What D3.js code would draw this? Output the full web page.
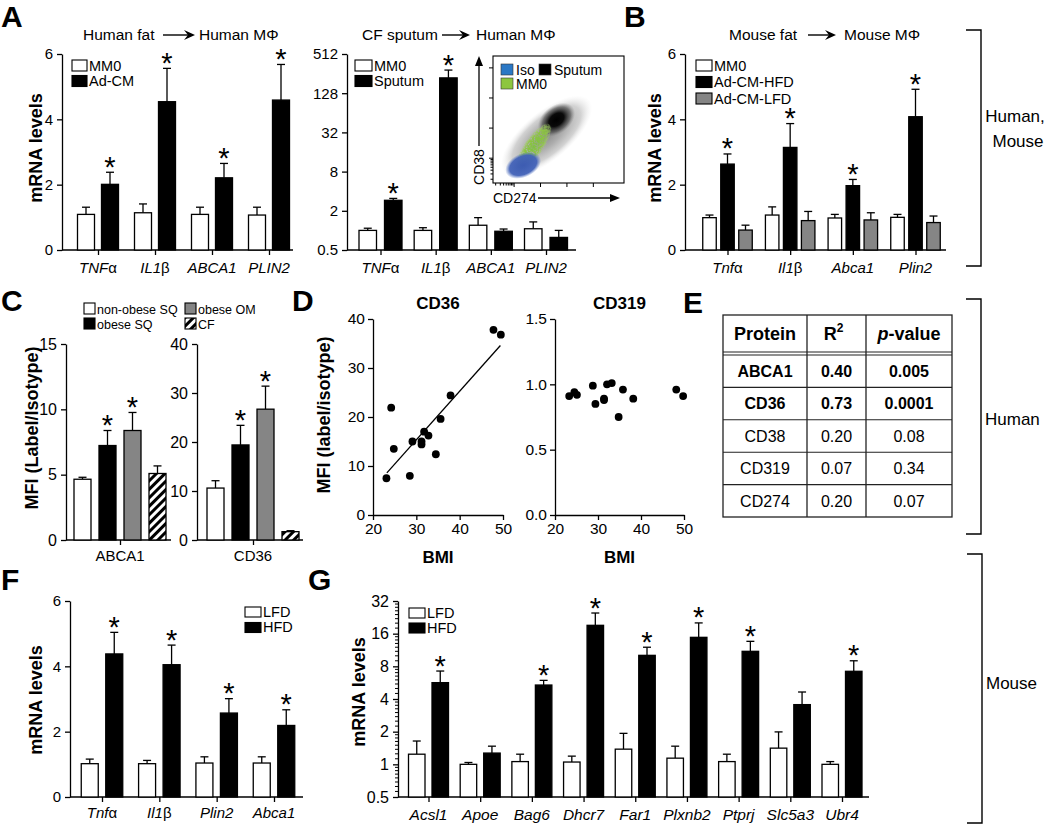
<!DOCTYPE html>
<html><head><meta charset="utf-8">
<script src="https://cdn.jsdelivr.net/npm/d3@7"></script>
<style>
body{margin:0;background:#fff}
text{font-family:'Liberation Sans',Arial,sans-serif;fill:#000}
</style>
</head><body><script>
// ---------------- DATA ----------------
// Panel A (left): human fat -> human macrophage
const aLeftCats = ["TNFα","IL1β","ABCA1","PLIN2"];
const aLeftMM0 = [1.09,1.14,1.09,1.07];
const aLeftMM0Sem = [0.22,0.27,0.22,0.24];
const aLeftAdCM = [2.01,4.54,2.21,4.59];
const aLeftAdCMSem = [0.37,1.02,0.44,1.09];
const aLeftStars = [true,true,true,true];
const aLeftTicks = [0,2,4,6];
// Panel A (middle): CF sputum (log2 axis)
const aMidCats = ["TNFα","IL1β","ABCA1","PLIN2"];
const aMidMM0 = [1.0,1.0,1.2,1.06];
const aMidMM0Sem = [0.08,0.1,0.37,0.29];
const aMidSputum = [2.9,220,0.97,0.78];
const aMidSputumSem = [0.2,70,0.08,0.22];
const aMidStars = [true,true,false,false];
const aMidTicks = [0.5,2,8,32,128,512];
// inset flow plot
const insetXTicks = [10,100,1000,10000];
const insetYTicks = [10,100,1000,10000];
const insetMinor = [2,3,4,5,6,7,8,9];
const insetClouds = [
  {name:"Sputum-spread", cx:170, cy:55, fill:"grey"},
  {name:"Sputum-core", cx:400, cy:190, fill:"black"},
  {name:"MM0", cx:55, cy:24, fill:"green"},
  {name:"Iso", cx:22, cy:5.8, fill:"blue"}
];
// Panel B: mouse fat -> mouse macrophage
const bCats = ["Tnfα","Il1β","Abca1","Plin2"];
const bMM0 = [0.99,1.07,0.98,1.0];
const bMM0Sem = [0.08,0.25,0.11,0.09];
const bHFD = [2.63,3.14,1.97,4.08];
const bHFDSem = [0.31,0.73,0.19,0.84];
const bLFD = [0.61,0.9,0.92,0.84];
const bLFDSem = [0.15,0.28,0.22,0.2];
const bHFDStars = [true,true,true,true];
const bTicks = [0,2,4,6];
// Panel C
const cGroups = ["non-obese SQ","obese SQ","obese OM","CF"];
const cAbca1 = [4.65,7.23,8.38,5.09];
const cAbca1Sem = [0.15,1.15,1.38,0.58];
const cCd36 = [10.6,19.4,26.7,1.7];
const cCd36Sem = [1.5,4.0,4.7,0.2];
const cStars = [false,true,true,false];
const cAbca1Ticks = [0,5,10,15];
const cCd36Ticks = [0,10,20,30,40];
// Panel D
const dBmiCD36 = [23.1,24.2,24.8,28.5,29.1,31.2,31.2,31.8,32.8,34.5,35.6,37.9,47.8,49.5];
const dCD36 = [7.5,21.9,13.5,8.0,15.0,15.0,14.4,17.0,16.2,12.4,19.6,24.4,37.8,36.8];
const dFitCD36 = [[23.2,8.6],[49.4,34.6]];
const dBmiCD319 = [23.3,24.5,25.1,28.8,29.4,31.4,31.4,32.1,33.2,34.8,35.8,38.2,48.2,49.8];
const dCD319 = [0.91,0.94,0.92,0.99,0.85,0.89,0.88,1.0,1.01,0.75,0.96,0.89,0.96,0.91];
const dXTicks = [20,30,40,50];
const dCD36Ticks = [0,10,20,30,40];
const dCD319Ticks = [0,0.5,1.0,1.5];
// Panel E
const eProteins = ["ABCA1","CD36","CD38","CD319","CD274"];
const eR2 = ["0.40","0.73","0.20","0.07","0.20"];
const eP = ["0.005","0.0001","0.08","0.34","0.07"];
const eBold = [true,true,false,false,false];
// Panel F
const fCats = ["Tnfα","Il1β","Plin2","Abca1"];
const fLFD = [1.02,1.02,1.04,1.04];
const fLFDSem = [0.14,0.10,0.19,0.19];
const fHFD = [4.38,4.05,2.57,2.19];
const fHFDSem = [0.66,0.60,0.44,0.48];
const fStars = [true,true,true,true];
const fTicks = [0,2,4,6];
// Panel G (log2 axis)
const gCats = ["Acsl1","Apoe","Bag6","Dhcr7","Far1","Plxnb2","Ptprj","Slc5a3","Ubr4"];
const gLFD = [1.24,1.0,1.06,1.05,1.38,1.14,1.06,1.41,1.0];
const gLFDSem = [0.40,0.04,0.18,0.14,0.55,0.33,0.18,0.58,0.06];
const gHFD = [5.66,1.27,5.38,19.1,10.1,14.8,11.0,3.55,7.2];
const gHFDSem = [1.58,0.20,0.56,5.7,1.9,5.3,2.6,1.09,1.8];
const gStars = [true,false,true,true,true,true,true,false,true];
const gTicks = [0.5,1,2,4,8,16,32];

// ---------------- SETUP ----------------
const svg = d3.select("body").append("svg").attr("width",1050).attr("height",825).style("display","block");
const defs = svg.append("defs");
const hp = defs.append("pattern").attr("id","hatch").attr("patternUnits","userSpaceOnUse")
  .attr("width",6).attr("height",6).attr("patternTransform","rotate(45)");
hp.append("rect").attr("width",6).attr("height",6).attr("fill","#fff");
hp.append("rect").attr("width",3).attr("height",6).attr("fill","#000");
// speckle texture for the flow-cytometry inset
const sf = defs.append("filter").attr("id","speckle").attr("x","-20%").attr("y","-20%").attr("width","140%").attr("height","140%");
sf.append("feTurbulence").attr("type","fractalNoise").attr("baseFrequency",0.9).attr("numOctaves",1).attr("seed",4).attr("result","n");
sf.append("feColorMatrix").attr("in","n").attr("type","matrix")
  .attr("values","0 0 0 0 0  0 0 0 0 0  0 0 0 0 0  6 0 0 0 -2.0").attr("result","m");
sf.append("feComposite").attr("in","SourceGraphic").attr("in2","m").attr("operator","in");

const GREY = "#858585";
const SW = 1.3;

function styleAxis(g, fs){
  g.select(".domain").attr("stroke","#000").attr("stroke-width",SW);
  g.selectAll(".tick line").attr("stroke","#000").attr("stroke-width",SW);
  g.selectAll(".tick text").attr("fill","#000").style("font-size",fs+"px")
    .style("font-family","'Liberation Sans',Arial,sans-serif");
}
function catLabel(sel, name, italic){
  const m = name.match(/^(.*?)([αβ])$/);
  if(m){
    sel.append("tspan").style("font-style",italic?"italic":"normal").text(m[1]);
    sel.append("tspan").style("font-style","normal").text(m[2]);
  } else sel.append("tspan").style("font-style",italic?"italic":"normal").text(name);
}
function yLabel(text, x, y, fs){
  svg.append("text").attr("transform",`translate(${x},${y}) rotate(-90)`)
    .attr("text-anchor","middle").style("font-size",(fs||18)+"px").style("font-weight","bold").text(text);
}
function panelLetter(t,x,y){
  svg.append("text").attr("x",x).attr("y",y).style("font-size","30px").style("font-weight","bold").text(t);
}
function legend(items, x, y0, dy, w, h, fs){
  items.forEach((it,i)=>{
    const y = y0 + i*dy;
    svg.append("rect").attr("x",x).attr("y",y).attr("width",w).attr("height",h)
      .attr("fill",it.fill).attr("stroke","#000").attr("stroke-width",1.1);
    svg.append("text").attr("x",x+w+2).attr("y",y+h-0.5).style("font-size",fs+"px").text(it.name);
  });
}
function arrowHead(g, x, y, dir){
  if(dir==="right") g.append("path").attr("d",`M${x},${y} L${x-11},${y-5} L${x-7},${y} L${x-11},${y+5} Z`).attr("fill","#000");
  else g.append("path").attr("d",`M${x},${y} L${x-4},${y+10} L${x+4},${y+10} Z`).attr("fill","#000");
}
function arrowTitle(t1, t2, x1, ax1, ax2, x2, y){
  svg.append("text").attr("x",x1).attr("y",y).style("font-size","15.5px").text(t1);
  svg.append("line").attr("x1",ax1).attr("x2",ax2-6).attr("y1",y-5).attr("y2",y-5).attr("stroke","#000").attr("stroke-width",1.4);
  arrowHead(svg, ax2, y-5, "right");
  svg.append("text").attr("x",x2).attr("y",y).style("font-size","15.5px").text(t2);
}
function bracket(x, y1, y2){
  svg.append("path").attr("d",`M${x-15},${y1} H${x} V${y2} H${x-15}`).attr("fill","none").attr("stroke","#000").attr("stroke-width",1.4);
}

function barChart(o){
  const g = svg.append("g");
  const y = o.y;
  const yBase = y.range()[0];
  const xc = d3.scalePoint().domain(o.cats).range(o.centers);
  const n = o.series.length;
  if(o.minor){
    g.selectAll(null).data(o.minor).enter().append("line")
      .attr("x1",o.ax[0]-3).attr("x2",o.ax[0]).attr("y1",d=>y(d)).attr("y2",d=>y(d))
      .attr("stroke","#000").attr("stroke-width",1);
  }
  const ya = d3.axisLeft(y).tickValues(o.yTicks).tickSize(5).tickSizeOuter(0).tickPadding(4)
    .tickFormat(o.fmt || (d=>d));
  const yg = g.append("g").attr("transform",`translate(${o.ax[0]},0)`).call(ya);
  styleAxis(yg, o.tickFs||15);
  g.append("line").attr("x1",o.ax[0]).attr("x2",o.ax[1]).attr("y1",yBase).attr("y2",yBase)
    .attr("stroke","#000").attr("stroke-width",SW);
  const xa = d3.axisBottom(xc).tickSize(5).tickSizeOuter(0).tickFormat("");
  const xg = g.append("g").attr("transform",`translate(0,${yBase})`).call(xa);
  xg.select(".domain").remove();
  styleAxis(xg, 15);
  o.cats.forEach(c=>{
    const t = g.append("text").attr("x",xc(c)).attr("y",o.catY).attr("text-anchor","middle")
      .style("font-size",(o.catFs||15)+"px");
    catLabel(t, c, o.italic);
  });
  o.series.forEach((s,j)=>{
    const off = (j-(n-1)/2)*o.pitch;
    o.cats.forEach((c,i)=>{
      const cx = xc(c)+off;
      const v = s.vals[i], e = s.sems[i];
      const top = y(v + e);
      g.append("line").attr("x1",cx).attr("x2",cx).attr("y1",y(v)).attr("y2",top).attr("stroke","#000").attr("stroke-width",SW);
      g.append("line").attr("x1",cx-4).attr("x2",cx+4).attr("y1",top).attr("y2",top).attr("stroke","#000").attr("stroke-width",SW);
      g.append("rect").attr("x",cx-o.w/2).attr("y",y(v)).attr("width",o.w).attr("height",yBase-y(v))
        .attr("fill",s.fill).attr("stroke","#000").attr("stroke-width",SW);
      if(s.stars && s.stars[i]){
        g.append("text").attr("x",cx).attr("y",top+4.5).attr("text-anchor","middle")
          .style("font-size","29px").text("*");
      }
    });
  });
  return g;
}

// ---------------- PANEL A left ----------------
panelLetter("A",1,27);
arrowTitle("Human fat","Human MΦ",83,163,195,199,40);
barChart({cats:aLeftCats, y:d3.scaleLinear().domain([0,6]).range([250,54]), ax:[62,293], centers:[98,269],
  w:17, pitch:24, yTicks:aLeftTicks, catY:273, italic:true,
  series:[{vals:aLeftMM0,sems:aLeftMM0Sem,fill:"#fff"},{vals:aLeftAdCM,sems:aLeftAdCMSem,fill:"#000",stars:aLeftStars}]});
legend([{name:"MM0",fill:"#fff"},{name:"Ad-CM",fill:"#000"}],72,60,15.5,15,11,14.5);
yLabel("mRNA levels",42,148);

// ---------------- PANEL A middle ----------------
arrowTitle("CF sputum","Human MΦ",362,442,470,476,40);
const yAmid = d3.scaleLog().base(2).domain([0.5,512]).range([250,54]);
barChart({cats:aMidCats, y:yAmid, ax:[347,576], centers:[380.5,546], w:17.5, pitch:25.5,
  yTicks:aMidTicks, catY:273, italic:true,
  series:[{vals:aMidMM0,sems:aMidMM0Sem,fill:"#fff"},{vals:aMidSputum,sems:aMidSputumSem,fill:"#000",stars:aMidStars}]});
legend([{name:"MM0",fill:"#fff"},{name:"Sputum",fill:"#000"}],355,60,15.5,17,11,14.5);

// inset flow plot
(function(){
  const L=493,R=624,T=56,B=183;
  const ix = d3.scaleLog().domain([1.585,145000]).range([L,R]);
  const iy = d3.scaleLog().domain([1.5,24800]).range([B,T]);
  const g = svg.append("g");
  const clip = defs.append("clipPath").attr("id","insetClip");
  clip.append("rect").attr("x",L).attr("y",T).attr("width",R-L).attr("height",B-T);
  const grads = {
    grey:[["0%","#8c8c8c",1],["40%","#a9a9a9",0.95],["75%","#cdcdcd",0.9],["100%","#ececec",0]],
    black:[["0%","#000",1],["40%","#0a0a0a",1],["75%","#3c3c3c",0.6],["100%","#777",0]],
    green:[["0%","#7fc13f",1],["70%","#8dc63f",1],["100%","#a6d36a",0.5]],
    blue:[["0%","#3d5cb2",1],["75%","#4262b8",0.95],["100%","#5b7bc8",0]]
  };
  Object.entries(grads).forEach(([k,stops])=>{
    const rg = defs.append("radialGradient").attr("id","cl-"+k);
    stops.forEach(s=>rg.append("stop").attr("offset",s[0]).attr("stop-color",s[1]).attr("stop-opacity",s[2]));
  });
  const shape = {grey:[56,24,-40], black:[21,14,-38], green:[27,9,-55], blue:[19,12,-25]};
  const cg = g.append("g").attr("clip-path","url(#insetClip)");
  insetClouds.forEach(c=>{
    const s = shape[c.fill];
    const el = cg.append("ellipse").attr("transform",`translate(${ix(c.cx)},${iy(c.cy)}) rotate(${s[2]})`)
      .attr("rx",s[0]).attr("ry",s[1]).attr("fill",`url(#cl-${c.fill})`);
    if(c.fill==="green") el.attr("filter","url(#speckle)");
  });
  g.append("rect").attr("x",L).attr("y",T).attr("width",R-L).attr("height",B-T).attr("fill","none").attr("stroke","#000").attr("stroke-width",1.1);
  g.selectAll(null).data(insetYTicks).enter().append("line").attr("x1",L-4).attr("x2",L).attr("y1",d=>iy(d)).attr("y2",d=>iy(d)).attr("stroke","#000");
  g.selectAll(null).data(insetMinor).enter().append("line").attr("x1",L-2.5).attr("x2",L).attr("y1",d=>iy(d)).attr("y2",d=>iy(d)).attr("stroke","#000");
  g.selectAll(null).data(insetXTicks).enter().append("line").attr("y1",B).attr("y2",B+4).attr("x1",d=>ix(d)).attr("x2",d=>ix(d)).attr("stroke","#000");
  g.selectAll(null).data(insetMinor).enter().append("line").attr("y1",B).attr("y2",B+2.5).attr("x1",d=>ix(d)).attr("x2",d=>ix(d)).attr("stroke","#000");
  const lg = [{n:"Iso",c:"#2b78c5",x:501,y:64},{n:"Sputum",c:"#000",x:539,y:64},{n:"MM0",c:"#8dc63f",x:501,y:78}];
  lg.forEach(d=>{
    g.append("rect").attr("x",d.x).attr("y",d.y).attr("width",12).attr("height",11).attr("fill",d.c).attr("stroke","#333").attr("stroke-width",0.6);
    g.append("text").attr("x",d.x+15).attr("y",d.y+10.5).style("font-size","14px").text(d.n);
  });
  g.append("line").attr("x1",479).attr("x2",479).attr("y1",146).attr("y2",64).attr("stroke","#000").attr("stroke-width",1.3);
  arrowHead(g,479,56,"up");
  g.append("text").attr("transform","translate(484,167) rotate(-90)").attr("text-anchor","middle").style("font-size","14px").text("CD38");
  g.append("text").attr("x",493).attr("y",203).style("font-size","14px").text("CD274");
  g.append("line").attr("x1",538).attr("x2",612).attr("y1",198).attr("y2",198).attr("stroke","#000").attr("stroke-width",1.3);
  g.append("path").attr("d","M620,198 L610,194 L610,202 Z").attr("fill","#000");
})();

// ---------------- PANEL B ----------------
panelLetter("B",624,27);
arrowTitle("Mouse fat","Mouse MΦ",729,808,836,844,40);
barChart({cats:bCats, y:d3.scaleLinear().domain([0,6]).range([250,54]), ax:[685,946], centers:[727.5,915.5],
  w:13.5, pitch:18, yTicks:bTicks, catY:273, italic:true,
  series:[{vals:bMM0,sems:bMM0Sem,fill:"#fff"},{vals:bHFD,sems:bHFDSem,fill:"#000",stars:bHFDStars},{vals:bLFD,sems:bLFDSem,fill:GREY}]});
legend([{name:"MM0",fill:"#fff"},{name:"Ad-CM-HFD",fill:"#000"},{name:"Ad-CM-LFD",fill:GREY}],696,60,16.5,16,11,14.5);
yLabel("mRNA levels",661,148);
bracket(981,30,266);
svg.append("text").attr("x",1015).attr("y",122).attr("text-anchor","middle").style("font-size","17px").text("Human,");
svg.append("text").attr("x",1018).attr("y",147).attr("text-anchor","middle").style("font-size","17px").text("Mouse");

// ---------------- PANEL C ----------------
panelLetter("C",1,311);
const cFills = ["#fff","#000",GREY,"url(#hatch)"];
barChart({cats:["ABCA1"], y:d3.scaleLinear().domain([0,15]).range([540,344]), ax:[66,171], centers:[120,120],
  w:17, pitch:25, yTicks:cAbca1Ticks, catY:561, italic:false, tickFs:16,
  series:cGroups.map((gname,j)=>({vals:[cAbca1[j]],sems:[cAbca1Sem[j]],fill:cFills[j],stars:[cStars[j]]}))});
barChart({cats:["CD36"], y:d3.scaleLinear().domain([0,40]).range([540,344]), ax:[197,303], centers:[253,253],
  w:17, pitch:25, yTicks:cCd36Ticks, catY:561, italic:false, tickFs:16,
  series:cGroups.map((gname,j)=>({vals:[cCd36[j]],sems:[cCd36Sem[j]],fill:cFills[j],stars:[cStars[j]]}))});
legend([{name:cGroups[0],fill:cFills[0]},{name:cGroups[1],fill:cFills[1]}],84,303,15,11,11,12.5);
legend([{name:cGroups[2],fill:cFills[2]},{name:cGroups[3],fill:cFills[3]}],185,303,15,11,11,12.5);
yLabel("MFI (Label/Isotype)",38,428);

// ---------------- PANEL D ----------------
panelLetter("D",292,311);
function scatter(o){
  const g = svg.append("g");
  const x = d3.scaleLinear().domain([20,50]).range(o.xr);
  const y = d3.scaleLinear().domain(o.yd).range([515,319]);
  const xg = g.append("g").attr("transform","translate(0,515)").call(d3.axisBottom(x).tickValues(dXTicks).tickSize(5).tickSizeOuter(0).tickPadding(3));
  styleAxis(xg,15.5);
  const yg = g.append("g").attr("transform",`translate(${o.xr[0]},0)`).call(d3.axisLeft(y).tickValues(o.yTicks).tickSize(5).tickSizeOuter(0).tickPadding(3).tickFormat(o.fmt));
  styleAxis(yg,15.5);
  if(o.fit){
    g.append("line").attr("x1",x(o.fit[0][0])).attr("y1",y(o.fit[0][1])).attr("x2",x(o.fit[1][0])).attr("y2",y(o.fit[1][1]))
      .attr("stroke","#000").attr("stroke-width",1.3);
  }
  g.selectAll(null).data(o.xs).enter().append("circle").attr("cx",d=>x(d)).attr("cy",(d,i)=>y(o.ys[i])).attr("r",3.9).attr("fill","#000");
  const mid = (o.xr[0]+o.xr[1])/2;
  g.append("text").attr("x",mid).attr("y",309).attr("text-anchor","middle").style("font-size","17px").style("font-weight","bold").text(o.title);
  g.append("text").attr("x",mid).attr("y",563).attr("text-anchor","middle").style("font-size","17px").style("font-weight","bold").text("BMI");
}
scatter({xs:dBmiCD36, ys:dCD36, xr:[373,503], yd:[0,40], yTicks:dCD36Ticks, fmt:d3.format("d"), fit:dFitCD36, title:"CD36"});
scatter({xs:dBmiCD319, ys:dCD319, xr:[555,684], yd:[0,1.5], yTicks:dCD319Ticks, fmt:d3.format(".1f"), title:"CD319"});
yLabel("MFI (label/isotype)",330,415);

// ---------------- PANEL E ----------------
panelLetter("E",683,313);
(function(){
  const g = svg.append("g");
  const cols = [723,807,866,952];
  const colMid = [765,836.5,909];
  const top=315, hb=352, bodyTop=355, bottom=517;
  const ry = d3.scaleBand().domain(eProteins).range([bodyTop,bottom]);
  g.append("rect").attr("x",cols[0]).attr("y",top).attr("width",cols[3]-cols[0]).attr("height",bottom-top).attr("fill","none").attr("stroke","#222").attr("stroke-width",1.3);
  [cols[1],cols[2]].forEach(x=>g.append("line").attr("x1",x).attr("x2",x).attr("y1",top).attr("y2",bottom).attr("stroke","#222").attr("stroke-width",1.3));
  [hb,bodyTop].forEach(yy=>g.append("line").attr("x1",cols[0]).attr("x2",cols[3]).attr("y1",yy).attr("y2",yy).attr("stroke","#222").attr("stroke-width",1.1));
  eProteins.slice(1).forEach(p=>g.append("line").attr("x1",cols[0]).attr("x2",cols[3]).attr("y1",ry(p)).attr("y2",ry(p)).attr("stroke","#222").attr("stroke-width",1.1));
  const hy = 340;
  g.append("text").attr("x",colMid[0]).attr("y",hy).attr("text-anchor","middle").style("font-size","18px").style("font-weight","bold").text("Protein");
  const r2 = g.append("text").attr("x",colMid[1]-3).attr("y",hy).attr("text-anchor","middle").style("font-size","18px").style("font-weight","bold");
  r2.append("tspan").text("R");
  r2.append("tspan").attr("dy",-8).style("font-size","12px").text("2");
  const pv = g.append("text").attr("x",colMid[2]).attr("y",hy).attr("text-anchor","middle").style("font-size","18px").style("font-weight","bold");
  pv.append("tspan").style("font-style","italic").text("p");
  pv.append("tspan").text("-value");
  eProteins.forEach((p,i)=>{
    const yy = ry(p)+ry.bandwidth()/2+5.8;
    [p,eR2[i],eP[i]].forEach((t,k)=>{
      g.append("text").attr("x",colMid[k]).attr("y",yy).attr("text-anchor","middle").style("font-size","16px")
        .style("font-weight",eBold[i]?"bold":"normal").text(t);
    });
  });
})();
bracket(981,299,534);
svg.append("text").attr("x",985).attr("y",425).style("font-size","17px").text("Human");

// ---------------- PANEL F ----------------
panelLetter("F",1,590);
barChart({cats:fCats, y:d3.scaleLinear().domain([0,6]).range([797,601]), ax:[70,303], centers:[102,274],
  w:17, pitch:24.5, yTicks:fTicks, catY:818, italic:true,
  series:[{vals:fLFD,sems:fLFDSem,fill:"#fff"},{vals:fHFD,sems:fHFDSem,fill:"#000",stars:fStars}]});
legend([{name:"LFD",fill:"#fff"},{name:"HFD",fill:"#000"}],245,607,15.5,16,10,14.5);
yLabel("mRNA levels",42,700);

// ---------------- PANEL G ----------------
panelLetter("G",308,590);
const yG = d3.scaleLog().base(2).domain([0.5,32]).range([797,601]);
const gMinor = [];
gTicks.slice(0,-1).forEach(t=>{ for(let i=1;i<8;i++) gMinor.push(t*(1+i/8)); });
barChart({cats:gCats, y:yG, ax:[398,869], centers:[428.5,842], w:16.5, pitch:23.5,
  yTicks:gTicks, minor:gMinor, catY:820, italic:true, catFs:15.5, tickFs:16,
  series:[{vals:gLFD,sems:gLFDSem,fill:"#fff"},{vals:gHFD,sems:gHFDSem,fill:"#000",stars:gStars}]});
legend([{name:"LFD",fill:"#fff"},{name:"HFD",fill:"#000"}],409,608,15,16,10,14.5);
yLabel("mRNA levels",365,692);
bracket(982,554,823);
svg.append("text").attr("x",986).attr("y",689).style("font-size","17px").text("Mouse");
</script></body></html>
